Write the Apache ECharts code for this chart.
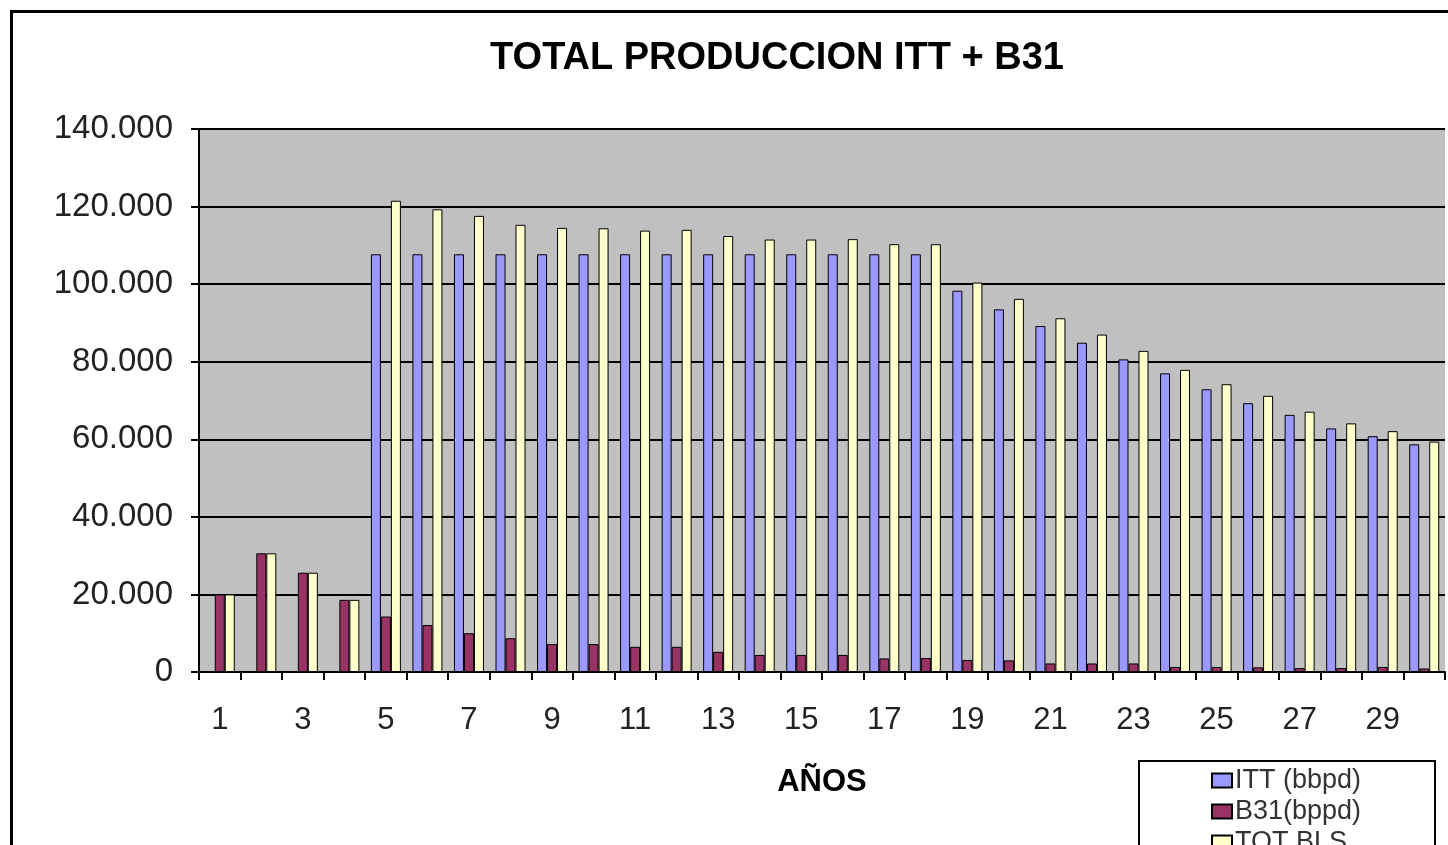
<!DOCTYPE html>
<html><head><meta charset="utf-8">
<script src="https://cdn.jsdelivr.net/npm/echarts@6/dist/echarts.min.js"></script>
<style>html,body{margin:0;padding:0;background:#fff}#c{width:1448px;height:845px}</style>
</head><body><div id="c"></div>
<script>
const categories = ['1','2','3','4','5','6','7','8','9','10','11','12','13','14','15','16','17','18','19','20','21','22','23','24','25','26','27','28','29','30'];
const ittValues = [0,0,0,0,107700,107700,107700,107700,107700,107700,107700,107700,107700,107700,107700,107700,107700,107700,98300,93500,89200,84900,80600,77000,72900,69300,66300,62800,60800,58700];
const b31Values = [20000,30600,25600,18600,14300,12100,10000,8700,7200,7200,6500,6500,5200,4400,4400,4400,3500,3600,3100,3000,2200,2200,2200,1300,1300,1200,1000,1000,1300,900];
const totValues = [20000,30600,25600,18600,121500,119300,117600,115300,114500,114400,113800,114000,112400,111500,111500,111600,110300,110300,100400,96200,91200,87000,82800,77900,74200,71200,67100,64100,62100,59400];
const yTicks = [0,20000,40000,60000,80000,100000,120000,140000];
const seriesNames = ['ITT (bbpd)','B31(bppd)','TOT BLS'];

const FONT = '"Liberation Sans", Arial, sans-serif';
function fmt(v){ return v === 0 ? '0' : String(v).replace(/\B(?=(\d{3})+(?!\d))/g, '.'); }

const chart = echarts.init(document.getElementById('c'));
const barBase = { type:'bar', barWidth:10, barGap:'0%', emphasis:{disabled:true} };
chart.setOption({
  animation:false,
  backgroundColor:'#fff',
  title:{ text:'TOTAL PRODUCCION ITT + B31', left:772, textAlign:'center', top:35,
    textStyle:{ fontFamily:FONT, fontSize:38, fontWeight:'bold', color:'#000' } },
  grid:{ left:199, right:3, top:129, bottom:173, show:true, backgroundColor:'#c0c0c0', borderWidth:0 },
  xAxis:{ type:'category', data:categories, boundaryGap:true,
    name:'AÑOS', nameLocation:'middle', nameGap:95,
    nameTextStyle:{ fontFamily:FONT, fontSize:31, fontWeight:'bold', color:'#000' },
    axisLine:{ lineStyle:{ color:'#000', width:2 } },
    axisTick:{ show:true, interval:0, length:8, lineStyle:{ color:'#000', width:2 } },
    axisLabel:{ interval:1, margin:33, fontFamily:FONT, fontSize:31, color:'#222' } },
  yAxis:{ type:'value', min:yTicks[0], max:yTicks[yTicks.length-1], interval:yTicks[1]-yTicks[0],
    axisLine:{ show:true, lineStyle:{ color:'#000', width:2 } },
    axisTick:{ show:true, length:8, lineStyle:{ color:'#000', width:2 } },
    splitLine:{ show:true, lineStyle:{ color:'#000', width:2 } },
    axisLabel:{ margin:26, fontFamily:FONT, fontSize:33, color:'#222', formatter:fmt } },
  legend:{ orient:'vertical', left:1206, top:762, height:300, itemWidth:20, itemHeight:14, itemGap:4,
    icon:'rect', data:seriesNames,
    textStyle:{ fontFamily:FONT, fontSize:27, color:'#333', padding:[0,0,0,-2] } },
  graphic:[
    { type:'rect', left:9, top:9, z:-1, shape:{ width:1500, height:900 }, style:{ fill:'none', stroke:'#000', lineWidth:3 } },
    { type:'rect', left:1138, top:760, z:-1, shape:{ width:296, height:100 }, style:{ fill:'#fff', stroke:'#000', lineWidth:2 } }
  ],
  series:[
    Object.assign({}, barBase, { name:seriesNames[0], data:ittValues, itemStyle:{ color:'#9999ff', borderColor:'#000', borderWidth:1 } }),
    Object.assign({}, barBase, { name:seriesNames[1], data:b31Values, itemStyle:{ color:'#993366', borderColor:'#000', borderWidth:1 } }),
    Object.assign({}, barBase, { name:seriesNames[2], data:totValues, itemStyle:{ color:'#ffffcc', borderColor:'#000', borderWidth:1 } })
  ]
});
</script></body></html>
